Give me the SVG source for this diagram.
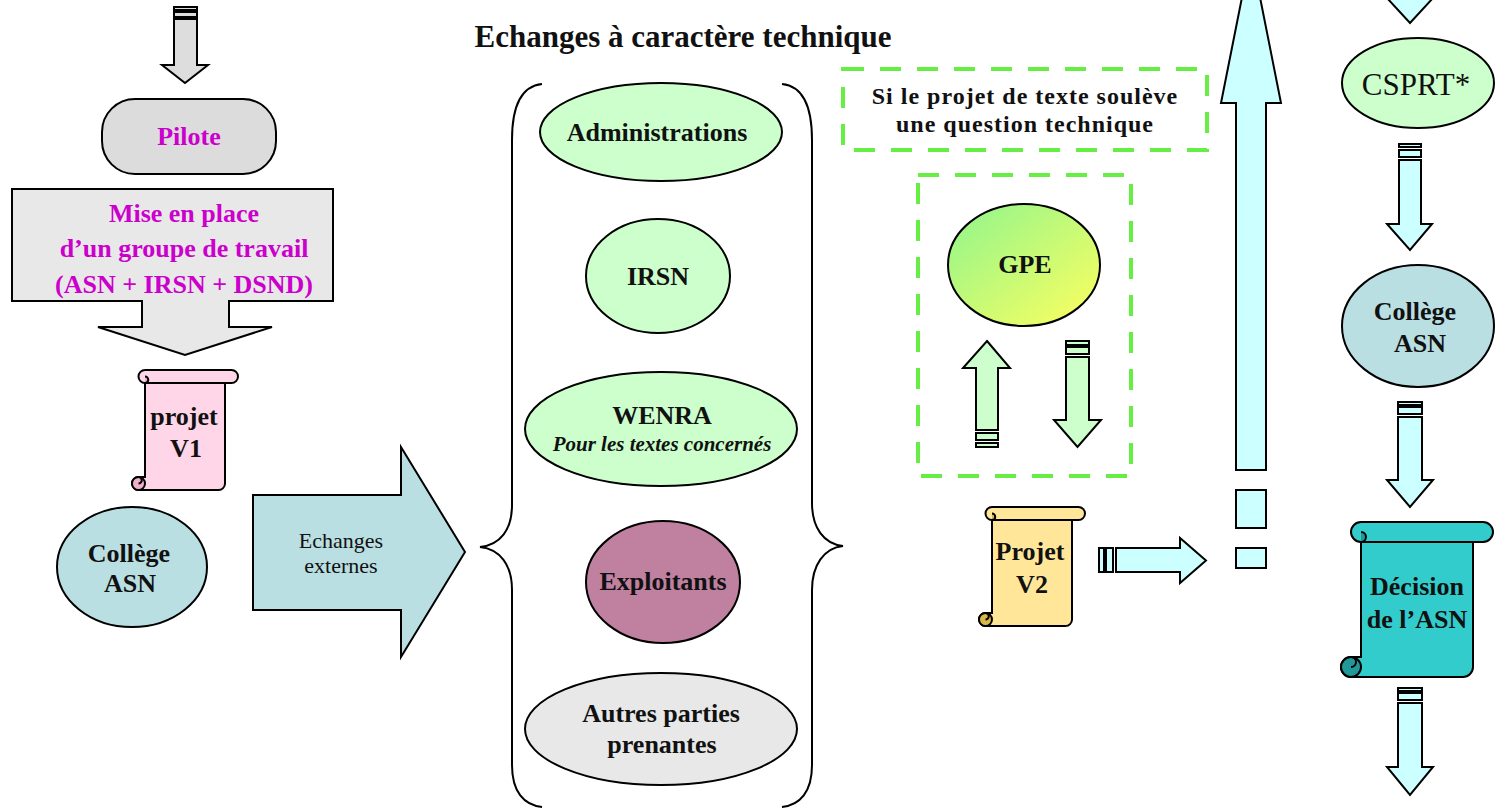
<svg xmlns="http://www.w3.org/2000/svg" width="1495" height="809" viewBox="0 0 1495 809">
<defs>
<style>
.t{font-family:"Liberation Serif","Times New Roman",serif;font-weight:bold;font-size:26px;fill:#111;text-anchor:middle}
.m{fill:#cc00cc}
.n{font-weight:normal}
.sh{stroke:#000;stroke-width:2;stroke-linejoin:miter}
.dash{fill:none;stroke:#66ee44;stroke-width:4;stroke-dasharray:21 16}
.cy{fill:#ccffff}
.gr{fill:#ccffcc}
.br{fill:none;stroke:#000;stroke-width:2}
</style>
<linearGradient id="gpe" x1="0" y1="0" x2="1" y2="1">
<stop offset="0" stop-color="#8ef58e"/>
<stop offset="1" stop-color="#ffff5e"/>
</linearGradient>
</defs>
<rect width="1495" height="809" fill="#fff"/>

<text class="t" x="683" y="47" style="font-size:31px">Echanges à caractère technique</text>

<g id="connectors">
<g id="arrow-top-left" fill="#dddddd" class="sh">
<rect x="174" y="7" width="23" height="3"/>
<rect x="174" y="12" width="23" height="5"/>
<path d="M174,19 H197 V65 H208 L185,83 L162,65 H174 Z"/>
</g>
<g id="arrow-echanges-externes">
<path class="sh" fill="#b9dfe3" d="M253,495 H401 V447 L465,552 L401,657 V610 H253 Z"/>
<text class="t n" x="341" y="548" style="font-size:22px">Echanges</text>
<text class="t n" x="341" y="573" style="font-size:22px">externes</text>
</g>
<path id="brace-left" class="br" d="M542,84 C522,86 512,105 512,140 L512,505 C512,530 500,545 480,547 C500,549 512,565 512,590 L512,765 C512,792 524,805 542,807"/>
<path id="brace-right" class="br" d="M782,84 C802,86 812,105 812,140 L812,503 C812,528 824,544 843,546 C824,548 812,565 812,590 L812,765 C812,792 800,805 782,807"/>
<g id="arrow-gpe-up" class="sh gr">
<path d="M987,341 L1010,368 H998 V430 H976 V368 H963 Z"/>
<rect x="976" y="433" width="22" height="7"/>
<rect x="976" y="443" width="22" height="4"/>
</g>
<g id="arrow-gpe-down" class="sh gr">
<rect x="1066" y="341" width="23" height="4"/>
<rect x="1066" y="347" width="23" height="7"/>
<path d="M1066,357 H1089 V420 H1101 L1077.5,447 L1054,420 H1066 Z"/>
</g>
<g id="arrow-v2-right" class="sh cy">
<rect x="1099" y="548" width="5" height="24"/>
<rect x="1106" y="548" width="7" height="24"/>
<path d="M1116,548 H1180 V538 L1206,560.5 L1180,583 V572 H1116 Z"/>
</g>
<g id="arrow-big-up" class="sh cy">
<path d="M1236,470 V103 H1221 L1251,-48 L1281,103 H1266 V470 Z"/>
<rect x="1236" y="490" width="30" height="38"/>
<rect x="1236" y="548" width="30" height="20"/>
</g>
<path id="arrow-right-top" class="sh cy" d="M1399,-20 V-2 H1387 L1410,23 L1433,-2 H1421 V-20 Z"/>
<g id="arrow-cspr-college" class="sh cy">
<rect x="1399" y="144" width="22" height="3"/>
<rect x="1399" y="150" width="22" height="7"/>
<path d="M1399,160 H1421 V224 H1432 L1410,250 L1387,224 H1399 Z"/>
</g>
<g id="arrow-college-decision" class="sh cy">
<rect x="1398" y="402" width="24" height="3"/>
<rect x="1398" y="407" width="24" height="7"/>
<path d="M1398,417 H1422 V480 H1433 L1410,507 L1387,480 H1398 Z"/>
</g>
<g id="arrow-decision-out" class="sh cy">
<rect x="1398" y="688" width="24" height="3"/>
<rect x="1398" y="693" width="24" height="7"/>
<path d="M1398,703 H1422 V767 H1433 L1410,795 L1387,767 H1398 Z"/>
</g>
</g>

<g id="node-pilote">
<rect class="sh" x="102" y="99" width="174" height="75" rx="33" fill="#dcdcdc"/>
<text class="t m" x="189" y="145">Pilote</text>
</g>

<g id="node-groupe-travail">
<path class="sh" fill="#e8e8e8" d="M12,189 H333 V301 H229 V327 H272 L185,355 L98,327 H142 V301 H12 Z"/>
<text class="t m" x="184" y="222">Mise en place</text>
<text class="t m" x="184" y="257">d’un groupe de travail</text>
<text class="t m" x="184" y="293">(ASN + IRSN + DSND)</text>
</g>

<g id="node-projet-v1" class="sh" fill="#ffd5e8">
<path d="M145,383 H225 V483.5 A6.5 6.5 0 0 1 218.5,490 H138.5 A6.5 6.5 0 0 1 138.5,477 H145 Z"/>
<path d="M145,370 H231.5 A6.5 6.5 0 0 1 231.5,383 H145 A6.5 6.5 0 0 1 145,370 Z"/>
<path d="M145,376.5 A3.25 3.25 0 0 1 145,383" fill="#f0b0cc"/>
<circle cx="138.5" cy="483.5" r="6.5" fill="#f0b0cc"/>
<path d="M138.5,477 A3.25 3.25 0 0 1 138.5,483.5" fill="none"/>
<text class="t" x="184" y="425" stroke="none" fill="#111">projet</text>
<text class="t" x="186" y="457" stroke="none" fill="#111">V1</text>
</g>

<g id="node-college-left">
<ellipse class="sh" cx="132" cy="567" rx="75" ry="60" fill="#b9dfe3"/>
<text class="t" x="129" y="562">Collège</text>
<text class="t" x="130" y="592">ASN</text>
</g>

<g id="node-administrations">
<ellipse class="sh gr" cx="661" cy="132" rx="121" ry="49"/>
<text class="t" x="657" y="141">Administrations</text>
</g>
<g id="node-irsn">
<ellipse class="sh gr" cx="658" cy="276" rx="72" ry="57"/>
<text class="t" x="658" y="285">IRSN</text>
</g>
<g id="node-wenra">
<ellipse class="sh gr" cx="661" cy="429" rx="136" ry="57"/>
<text class="t" x="662" y="424">WENRA</text>
<text class="t" x="662" y="451" style="font-size:21px;font-style:italic">Pour les textes concernés</text>
</g>
<g id="node-exploitants">
<ellipse class="sh" cx="663" cy="582" rx="77" ry="61" fill="#c080a0"/>
<text class="t" x="663" y="590">Exploitants</text>
</g>
<g id="node-autres">
<ellipse class="sh" cx="661" cy="729" rx="136" ry="56" fill="#e8e8e8"/>
<text class="t" x="661" y="722">Autres parties</text>
<text class="t" x="662" y="753">prenantes</text>
</g>

<g id="node-question-technique">
<rect class="dash" x="843" y="69" width="364" height="81"/>
<text class="t" x="1025" y="104" style="font-size:24px;letter-spacing:1px">Si le projet de texte soulève</text>
<text class="t" x="1025" y="132" style="font-size:24px;letter-spacing:1px">une question technique</text>
</g>

<g id="node-gpe-frame">
<rect class="dash" x="918" y="175" width="213" height="301"/>
</g>
<g id="node-gpe">
<ellipse class="sh" cx="1024" cy="265" rx="76" ry="61" fill="url(#gpe)"/>
<text class="t" x="1025" y="273">GPE</text>
</g>

<g id="node-projet-v2" class="sh" fill="#ffe699">
<path d="M992,520 H1072 V619.5 A6.5 6.5 0 0 1 1065.5,626 H985.5 A6.5 6.5 0 0 1 985.5,613 H992 Z"/>
<path d="M992,507 H1078.5 A6.5 6.5 0 0 1 1078.5,520 H992 A6.5 6.5 0 0 1 992,507 Z"/>
<path d="M992,513.5 A3.25 3.25 0 0 1 992,520" fill="#d9b84a"/>
<circle cx="985.5" cy="619.5" r="6.5" fill="#d9b84a"/>
<path d="M985.5,613 A3.25 3.25 0 0 1 985.5,619.5" fill="none"/>
<text class="t" x="1030" y="560" stroke="none" fill="#111">Projet</text>
<text class="t" x="1032" y="593" stroke="none" fill="#111">V2</text>
</g>

<g id="node-csprt">
<ellipse class="sh gr" cx="1418" cy="83" rx="76" ry="45"/>
<text class="t n" x="1416" y="95" style="font-size:31px">CSPRT*</text>
</g>

<g id="node-college-right">
<ellipse class="sh" cx="1418" cy="326" rx="76" ry="61" fill="#b9dfe3"/>
<text class="t" x="1415" y="320">Collège</text>
<text class="t" x="1420" y="352">ASN</text>
</g>

<g id="node-decision" class="sh" fill="#33cccc">
<path d="M1361,542 H1473 V667 A10 10 0 0 1 1463,677 H1351 A10 10 0 0 1 1351,657 H1361 Z"/>
<path d="M1361,522 H1483 A10 10 0 0 1 1483,542 H1361 A10 10 0 0 1 1361,522 Z"/>
<path d="M1361,532 A5 5 0 0 1 1361,542" fill="#229999"/>
<circle cx="1351" cy="667" r="10" fill="#229999"/>
<path d="M1351,657 A5 5 0 0 1 1351,667" fill="none"/>
<text class="t" x="1417" y="595" stroke="none" fill="#111">Décision</text>
<text class="t" x="1417" y="628" stroke="none" fill="#111">de l’ASN</text>
</g>
</svg>
